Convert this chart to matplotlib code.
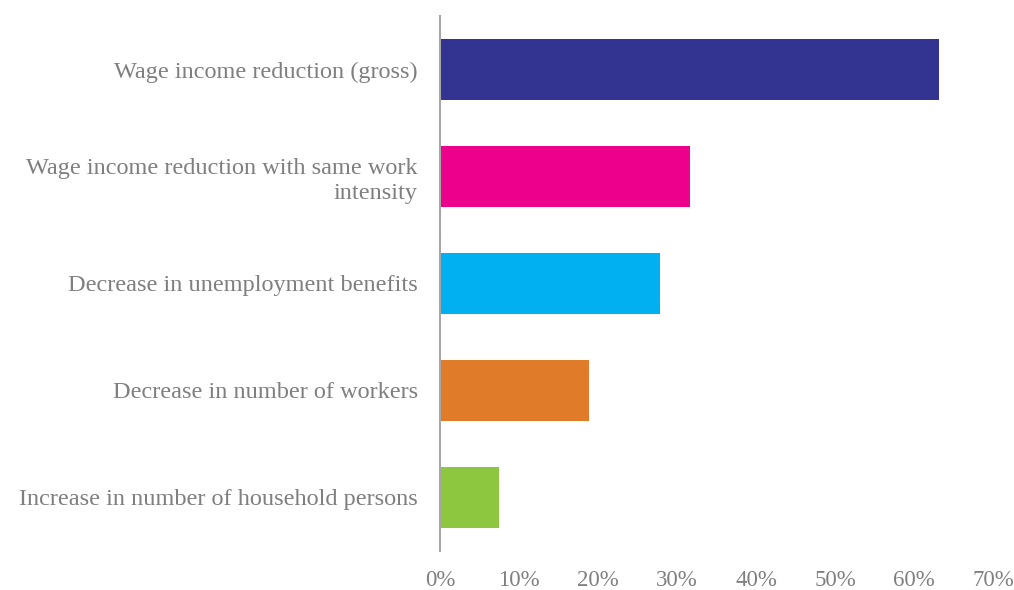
import matplotlib
matplotlib.use('Agg')
import matplotlib.pyplot as plt
from matplotlib.ticker import FuncFormatter

categories = ['Wage income reduction (gross)',
              'Wage income reduction with same work\nintensity',
              'Decrease in unemployment benefits',
              'Decrease in number of workers',
              'Increase in number of household persons']
values = [63.2, 31.6, 27.9, 18.8, 7.5]
colors = ['#333391', '#EC008C', '#00B0F0', '#E07B2A', '#8DC63F']
xticks = [0, 10, 20, 30, 40, 50, 60, 70]

txt = '#7F7F7F'
plt.rcParams['font.family'] = ['Liberation Serif', 'DejaVu Serif']

fig = plt.figure(figsize=(10.14, 5.9), dpi=100)
ax = fig.add_axes([440/1014, 39/590, (993-440)/1014, (551-16)/590])

ypos = list(range(len(categories)))
ax.barh(ypos, values, height=0.57, color=colors)
ax.set_ylim(len(categories) - 0.5, -0.5)
ax.set_xlim(0, 70)

ax.set_yticks(ypos)
ax.set_yticklabels(categories, fontsize=17.5, color=txt, linespacing=1.25)
ax.set_xticks(xticks)
ax.xaxis.set_major_formatter(FuncFormatter(lambda v, p: f'{v:.0f}%'))
ax.tick_params(axis='x', length=0, pad=14, labelsize=16.5, labelcolor=txt)
ax.tick_params(axis='y', length=0, pad=16)

for s in ['top', 'right', 'bottom']:
    ax.spines[s].set_visible(False)
ax.spines['left'].set_color('#A6A6A6')
ax.spines['left'].set_linewidth(1.5)

fig.savefig('out.png', dpi=100)
